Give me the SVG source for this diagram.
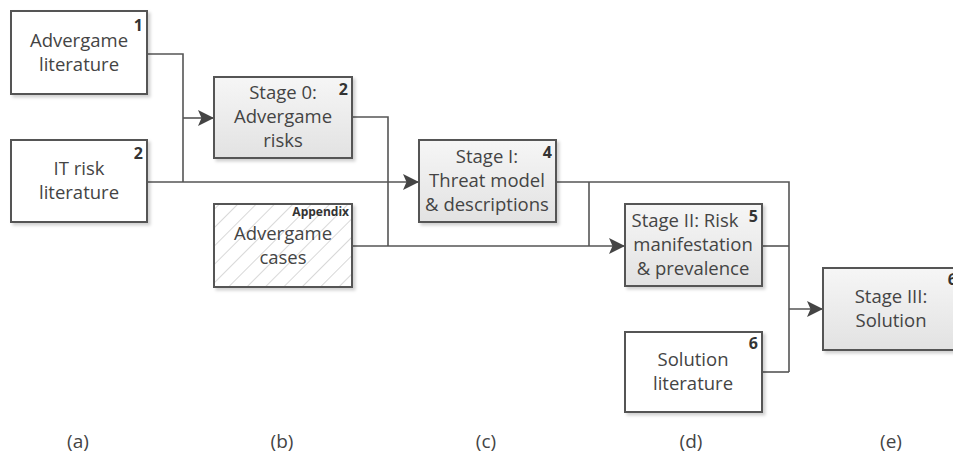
<svg xmlns="http://www.w3.org/2000/svg" width="953" height="456" viewBox="0 0 953 456">
<defs>
<style>
.box{stroke:#555;stroke-width:2}
.lit{fill:#fff}
.stage{fill:url(#g)}
.t{font-family:"Open Sans","Liberation Sans",sans-serif;font-size:18.5px;fill:#444;text-anchor:middle}
.n{font-family:"Open Sans","Liberation Sans",sans-serif;font-size:16px;font-weight:bold;fill:#333;text-anchor:end}
.ap{font-family:"Open Sans","Liberation Sans",sans-serif;font-size:12px;font-weight:bold;fill:#333;text-anchor:end}
.lab{font-family:"Open Sans","Liberation Sans",sans-serif;font-size:19px;fill:#444;text-anchor:middle}
.c{fill:none;stroke:#555;stroke-width:1.6}
</style>
<linearGradient id="g" x1="0" y1="0" x2="0" y2="1">
<stop offset="0" stop-color="#f6f6f6"/>
<stop offset="1" stop-color="#e2e2e2"/>
</linearGradient>
<pattern id="hatch" patternUnits="userSpaceOnUse" width="13" height="13" patternTransform="rotate(45)">
<rect width="13" height="13" fill="#fff"/>
<line x1="0" y1="0" x2="0" y2="13" stroke="#c4c4c4" stroke-width="1.3"/>
</pattern>
<filter id="sh" x="-10%" y="-10%" width="130%" height="130%">
<feDropShadow dx="2.5" dy="2.5" stdDeviation="1.5" flood-color="#000" flood-opacity="0.18"/>
</filter>
<marker id="ar" markerUnits="userSpaceOnUse" markerWidth="17" markerHeight="17" refX="16" refY="8" orient="auto" viewBox="0 0 17 16">
<path d="M0,0 L16,8 L0,16 L3.5,8 Z" fill="#444"/>
</marker>
</defs>
<rect width="953" height="456" fill="#fff"/>

<g id="connectors">
<path class="c" d="M147,54 H183 V182"/>
<path class="c" d="M183,118 H214" marker-end="url(#ar)"/>
<path class="c" d="M147,182 H419" marker-end="url(#ar)"/>
<path class="c" d="M352,117 H388 V246"/>
<path class="c" d="M352,246 H625" marker-end="url(#ar)"/>
<path class="c" d="M556,182 H789 V372"/>
<path class="c" d="M589,182 V246"/>
<path class="c" d="M762,246 H789"/>
<path class="c" d="M762,372 H789"/>
<path class="c" d="M789,309 H823" marker-end="url(#ar)"/>
</g>

<g id="advergame-literature">
<rect class="box lit" x="11" y="11" width="136" height="83" filter="url(#sh)"/>
<text class="n" x="143" y="31">1</text>
<text class="t" x="79" y="47">Advergame</text>
<text class="t" x="79" y="71">literature</text>
</g>

<g id="it-risk-literature">
<rect class="box lit" x="11" y="140" width="136" height="82" filter="url(#sh)"/>
<text class="n" x="143" y="159">2</text>
<text class="t" x="79" y="175">IT risk</text>
<text class="t" x="79" y="199">literature</text>
</g>

<g id="stage0">
<rect class="box stage" x="214" y="77" width="138" height="81" filter="url(#sh)"/>
<text class="n" x="348" y="95">2</text>
<text class="t" x="283" y="99">Stage 0:</text>
<text class="t" x="283" y="123">Advergame</text>
<text class="t" x="283" y="147">risks</text>
</g>

<g id="advergame-cases">
<rect class="box" x="214" y="204" width="138" height="83" fill="url(#hatch)" filter="url(#sh)"/>
<text class="ap" x="349" y="216">Appendix</text>
<text class="t" x="283" y="240">Advergame</text>
<text class="t" x="283" y="264">cases</text>
</g>

<g id="stage1">
<rect class="box stage" x="419" y="140" width="137" height="82" filter="url(#sh)"/>
<text class="n" x="552" y="158">4</text>
<text class="t" x="487" y="163">Stage I:</text>
<text class="t" x="487" y="187">Threat model</text>
<text class="t" x="487" y="211">&amp; descriptions</text>
</g>

<g id="stage2">
<rect class="box stage" x="625" y="204" width="137" height="82" filter="url(#sh)"/>
<text class="n" x="758" y="222">5</text>
<text class="t" x="685" y="227">Stage II: Risk</text>
<text class="t" x="693" y="251">manifestation</text>
<text class="t" x="693" y="275">&amp; prevalence</text>
</g>

<g id="solution-literature">
<rect class="box lit" x="625" y="332" width="137" height="80" filter="url(#sh)"/>
<text class="n" x="758" y="349">6</text>
<text class="t" x="693" y="366">Solution</text>
<text class="t" x="693" y="390">literature</text>
</g>

<g id="stage3">
<rect class="box stage" x="823" y="268" width="137" height="82" filter="url(#sh)"/>
<text class="n" x="957" y="285">6</text>
<text class="t" x="891" y="303">Stage III:</text>
<text class="t" x="891" y="327">Solution</text>
</g>

<g id="labels">
<text class="lab" x="78" y="448">(a)</text>
<text class="lab" x="282" y="448">(b)</text>
<text class="lab" x="486" y="448">(c)</text>
<text class="lab" x="691" y="448">(d)</text>
<text class="lab" x="891" y="448">(e)</text>
</g>
</svg>
